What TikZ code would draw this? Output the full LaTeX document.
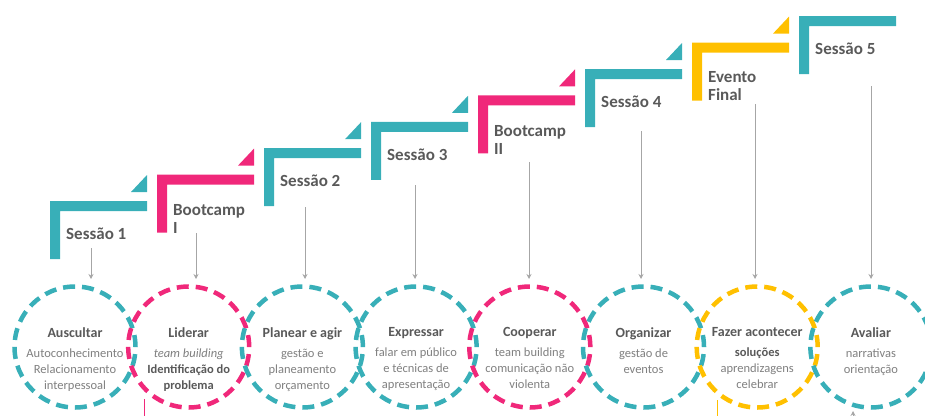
\documentclass[tikz,border=0pt]{standalone}
\usepackage{fontspec}
\setmainfont{Carlito}
\usetikzlibrary{arrows.meta}
\definecolor{teal1}{HTML}{38AFB8}
\definecolor{pink1}{HTML}{F0287A}
\definecolor{yel1}{HTML}{FFC000}
\definecolor{tgrey}{HTML}{595959}
\definecolor{bgrey}{HTML}{7F7F7F}
\definecolor{agrey}{HTML}{A6A6A6}
\tikzset{
  ring/.style={circle, draw=#1, line width=4.5pt, dash pattern=on 12pt off 7pt,
    minimum size=121pt, inner sep=0pt, outer sep=0pt},
  steplbl/.style={anchor=north west, inner sep=0pt, align=left, text=tgrey,
    font=\bfseries\fontsize{17}{18}\selectfont},
  ctext/.style={anchor=north, inner sep=0pt, align=center, text=bgrey,
    font=\fontsize{12.5}{16}\selectfont},
  arr/.style={draw=agrey, line width=0.9pt, -{Stealth[length=5pt,width=5pt]}},
  stub/.style={line width=0.9pt},
}
\newcommand{\ttl}[1]{{\bfseries\fontsize{14}{16}\selectfont\color{tgrey}#1}}
\newcommand{\bb}[1]{{\bfseries\color{tgrey}#1}}
\newcommand{\stepL}[3]{% x, top, colour
  \fill[#3] (#1,#2) -- ++(97,0) -- ++(0,10) -- ++(-87,0) -- ++(0,48) -- ++(-10,0) -- cycle;}
\newcommand{\stepT}[3]{%
  \fill[#3] (#1+97,#2-26) -- (#1+97,#2-9) -- (#1+81,#2-9) -- cycle;}
\begin{document}
\begin{tikzpicture}[x=1pt,y=-1pt]
\useasboundingbox (0,0) rectangle (925,415);
\clip (0,0) rectangle (925,415);

% steps
\stepL{50}{201}{teal1}\stepT{50}{201}{teal1}
\stepL{157}{174.6}{pink1}\stepT{157}{174.6}{pink1}
\stepL{264}{148.2}{teal1}\stepT{264}{148.2}{teal1}
\stepL{371}{121.8}{teal1}\stepT{371}{121.8}{teal1}
\stepL{478}{95.4}{pink1}\stepT{478}{95.4}{pink1}
\stepL{585}{69}{teal1}\stepT{585}{69}{teal1}
\stepL{692}{42.6}{yel1}\stepT{692}{42.6}{yel1}
\stepL{799}{16.2}{teal1}

% step labels
\node[steplbl] (l1) at (66,228) {Sessão 1};
\node[steplbl] (l2) at (173,204.6) {Bootcamp\\I};
\node[steplbl] (l3) at (280,175.2) {Sessão 2};
\node[steplbl] (l4) at (387,148.8) {Sessão 3};
\node[steplbl] (l5) at (494,125.4) {Bootcamp\\II};
\node[steplbl] (l6) at (601,96) {Sessão 4};
\node[steplbl] (l7) at (708,71.6) {Evento\\Final};
\node[steplbl] (l8) at (815,43.2) {Sessão 5};

% circles
\node[ring=teal1] (c1) at (75,347) {};
\node[ring=pink1] (c2) at (188.7,347) {};
\node[ring=teal1] (c3) at (302.4,347) {};
\node[ring=teal1] (c4) at (416.1,347) {};
\node[ring=pink1] (c5) at (529.8,347) {};
\node[ring=teal1] (c6) at (643.5,347) {};
\node[ring=yel1] (c7) at (757.2,347) {};
\node[ring=teal1] (c8) at (870.9,347) {};

% circle texts
\node[ctext] (t1) at (75,327.5) {\ttl{Auscultar}\\[4pt]Autoconhecimento\\Relacionamento\\interpessoal};
\node[ctext] (t2) at (188.7,327.5) {\ttl{Liderar}\\[4pt]\textit{team building}\\\bb{Identificação do}\\\bb{problema}};
\node[ctext] (t3) at (302.4,327.5) {\ttl{Planear e agir}\\[4pt]gestão e\\planeamento\\orçamento};
\node[ctext] (t4) at (416.1,327.5) {\ttl{Expressar}\\[4pt]falar em público\\e técnicas de\\apresentação};
\node[ctext] (t5) at (529.8,327.5) {\ttl{Cooperar}\\[4pt]team building\\comunicação não\\violenta};
\node[ctext] (t6) at (643.5,327.5) {\ttl{Organizar}\\[4pt]gestão de\\eventos};
\node[ctext] (t7) at (757.2,327.5) {\ttl{Fazer acontecer}\\[4pt]\bb{soluções}\\aprendizagens\\celebrar};
\node[ctext] (t8) at (870.9,327.5) {\ttl{Avaliar}\\[4pt]narrativas\\orientação};

% arrows
\coordinate (s1) at (91,248);
\coordinate (s2) at (196,233);
\coordinate (s3) at (305,207);
\coordinate (s4) at (415,185);
\coordinate (s5) at (529,162);
\coordinate (s6) at (641,131);
\coordinate (s7) at (755,104);
\coordinate (s8) at (871,86);
\foreach \i in {1,...,8}{
  \draw[arr, shorten >=7.5pt] (s\i) -- (s\i |- c\i.north);
}

% stubs at the bottom
\coordinate (p1) at (144,399);
\coordinate (p2) at (144,420);
\draw[stub, pink1] (p1) -- (p2);
\coordinate (y1) at (717,400);
\coordinate (y2) at (717,420);
\draw[stub, yel1] (y1) -- (y2);
\coordinate (g1) at (853,425);
\coordinate (g2) at (853,411);
\draw[arr] (g1) -- (g2);
\end{tikzpicture}
\end{document}
